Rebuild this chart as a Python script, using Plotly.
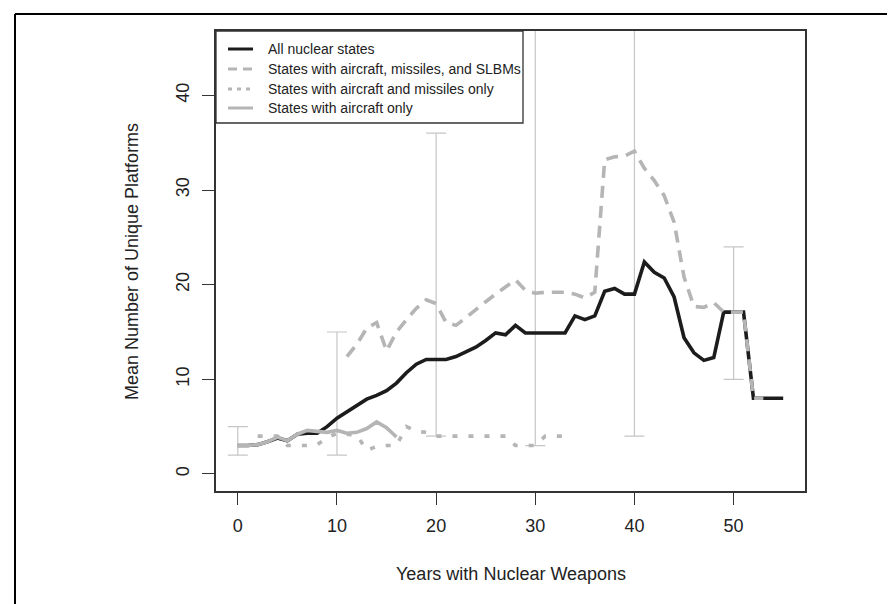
import plotly.graph_objects as go

years = list(range(0, 56))

all_states = [3.0, 3.0, 3.1, 3.4, 3.8, 3.5, 4.2, 4.3, 4.3, 5.0,
              5.9, 6.6, 7.2, 7.9, 8.3, 8.8, 9.6, 10.7, 11.6, 12.1,
              12.1, 12.1, 12.4, 12.9, 13.4, 14.1, 14.9, 14.7, 15.7, 14.9,
              14.9, 14.9, 14.9, 14.9, 16.7, 16.3, 16.7, 19.3, 19.6, 19.0,
              19.0, 22.4, 21.3, 20.7, 18.7, 14.4, 12.8, 12.0, 12.3, 17.1,
              17.1, 17.1, 8.0, 8.0, 8.0, 8.0]

slbm_states = [None] * 11 + [12.4, 13.7, 15.4, 16.0, 13.0, 15.0, 16.3, 17.5, 18.4,
              18.0, 16.0, 15.7, 16.5, 17.4, 18.2, 19.0, 19.7, 20.5, 19.4,
              19.1, 19.2, 19.2, 19.2, 19.0, 18.6, 19.2, 33.2, 33.5, 33.6,
              34.1, 32.3, 31.0, 29.4, 26.6, 20.8, 17.7, 17.6, 18.1, 17.1,
              17.1, 17.1, 8.0, 8.0, None, None]

missile_states = [None, None, 4.0, 4.0, 4.0, 3.0, 3.0, 3.0, 3.1, 3.8,
                  4.3, 4.2, 4.1, 2.5, 2.9, 3.0, 3.0, 5.0, 4.5, 4.4,
                  4.0, 4.0, 4.0, 4.0, 4.0, 4.0, 4.0, 4.0, 3.0, 3.0,
                  3.0, 4.0, 4.0, 4.0] + [None] * 22

aircraft_states = [3.0, 3.0, 3.1, 3.4, 3.9, 3.5, 4.2, 4.6, 4.5, 4.4,
                   4.6, 4.3, 4.4, 4.8, 5.5, 4.9, 3.9] + [None] * 39

err_years = [0, 10, 20, 30, 40, 50]
err_low = [2, 2, 4, 3, 4, 10]
err_high = [5, 15, 36, 50, 50, 24]

legend_labels = ["All nuclear states",
                 "States with aircraft, missiles, and SLBMs",
                 "States with aircraft and missiles only",
                 "States with aircraft only"]

BLACK = "#1c1c1c"
GRAY = "#b5b5b5"
ERR = "#c6c6c6"
DASH = "12px,8px"
DOT = "5px,11px"

fig = go.Figure()

fig.add_trace(go.Scatter(
    x=err_years, y=err_low, mode="markers",
    marker=dict(size=1, opacity=0),
    error_y=dict(type="data", symmetric=False,
                 array=[h - l for h, l in zip(err_high, err_low)],
                 arrayminus=[0] * len(err_low),
                 color=ERR, thickness=1.2, width=10),
    showlegend=False, hoverinfo="skip"))

fig.add_trace(go.Scatter(x=years, y=all_states, mode="lines",
                         line=dict(color=BLACK, width=3.6), showlegend=False))
fig.add_trace(go.Scatter(x=years, y=slbm_states, mode="lines",
                         line=dict(color=GRAY, width=3.6, dash=DASH), showlegend=False))
fig.add_trace(go.Scatter(x=years, y=missile_states, mode="lines",
                         line=dict(color=GRAY, width=3.6, dash=DOT), showlegend=False))
fig.add_trace(go.Scatter(x=years, y=aircraft_states, mode="lines",
                         line=dict(color=GRAY, width=3.6), showlegend=False))

# plot area in pixels
L, R, T, B = 208, 797, 23, 483
W, H = 895, 604
pw, ph = R - L, B - T

def px(xp):
    return (xp - L) / pw

def py(yp):
    return (B - yp) / ph

shapes = []
annotations = []

# manual legend
shapes.append(dict(type="rect", xref="paper", yref="paper",
                   x0=px(L), x1=px(515), y0=py(115), y1=py(T),
                   line=dict(color="#333333", width=1.3), fillcolor="white", layer="above"))
styles = [(BLACK, None), (GRAY, DASH), (GRAY, DOT), (GRAY, None)]
rows = [41, 61, 81, 100]
for (col, dash), yrow, lab in zip(styles, rows, legend_labels):
    ln = dict(color=col, width=3)
    if dash:
        ln["dash"] = "9px,6px" if dash == DASH else "4px,5px"
    shapes.append(dict(type="line", xref="paper", yref="paper",
                       x0=px(220), x1=px(245), y0=py(yrow), y1=py(yrow), line=ln))
    annotations.append(dict(xref="paper", yref="paper", x=px(258), y=py(yrow),
                            text=lab, showarrow=False, xanchor="left", yanchor="middle",
                            font=dict(size=14, color="#222222", family="Liberation Sans, Arial")))

# outer frame
shapes.append(dict(type="line", xref="paper", yref="paper",
                   x0=px(7), x1=px(893), y0=py(6), y1=py(6), line=dict(color="black", width=2)))
shapes.append(dict(type="line", xref="paper", yref="paper",
                   x0=px(7), x1=px(7), y0=py(6), y1=py(606), line=dict(color="black", width=2)))
shapes.append(dict(type="line", xref="paper", yref="paper",
                   x0=px(893), x1=px(893), y0=py(6), y1=py(606), line=dict(color="black", width=2)))

# axis titles
annotations.append(dict(xref="paper", yref="paper", x=0.5, y=py(566),
                        text="Years with Nuclear Weapons", showarrow=False,
                        xanchor="center", yanchor="middle",
                        font=dict(size=18, color="#222222", family="Liberation Sans, Arial")))
annotations.append(dict(xref="paper", yref="paper", x=px(124), y=0.5,
                        text="Mean Number of Unique Platforms", showarrow=False,
                        textangle=-90, xanchor="center", yanchor="middle",
                        font=dict(size=18, color="#222222", family="Liberation Sans, Arial")))

fig.update_layout(
    width=W, height=H,
    margin=dict(l=L, r=W - R, t=T, b=H - B, pad=0),
    paper_bgcolor="white", plot_bgcolor="white",
    font=dict(family="Liberation Sans, Arial", size=18, color="#222222"),
    shapes=shapes, annotations=annotations,
    showlegend=False,
)
fig.update_xaxes(range=[-2.2, 57.2], tickvals=[0, 10, 20, 30, 40, 50],
                 ticks="outside", ticklen=12, tickwidth=1.3, tickcolor="#333333",
                 showline=True, linecolor="#333333", linewidth=1.5, mirror=True,
                 showgrid=False, zeroline=False, ticklabelstandoff=6)
fig.update_yaxes(range=[-1.8, 46.8], tickvals=[0, 10, 20, 30, 40],
                 ticks="outside", ticklen=12, tickwidth=1.3, tickcolor="#333333",
                 showline=True, linecolor="#333333", linewidth=1.5, mirror=True,
                 showgrid=False, zeroline=False, tickangle=-90, ticklabelstandoff=6)

fig.write_html("out.html")
